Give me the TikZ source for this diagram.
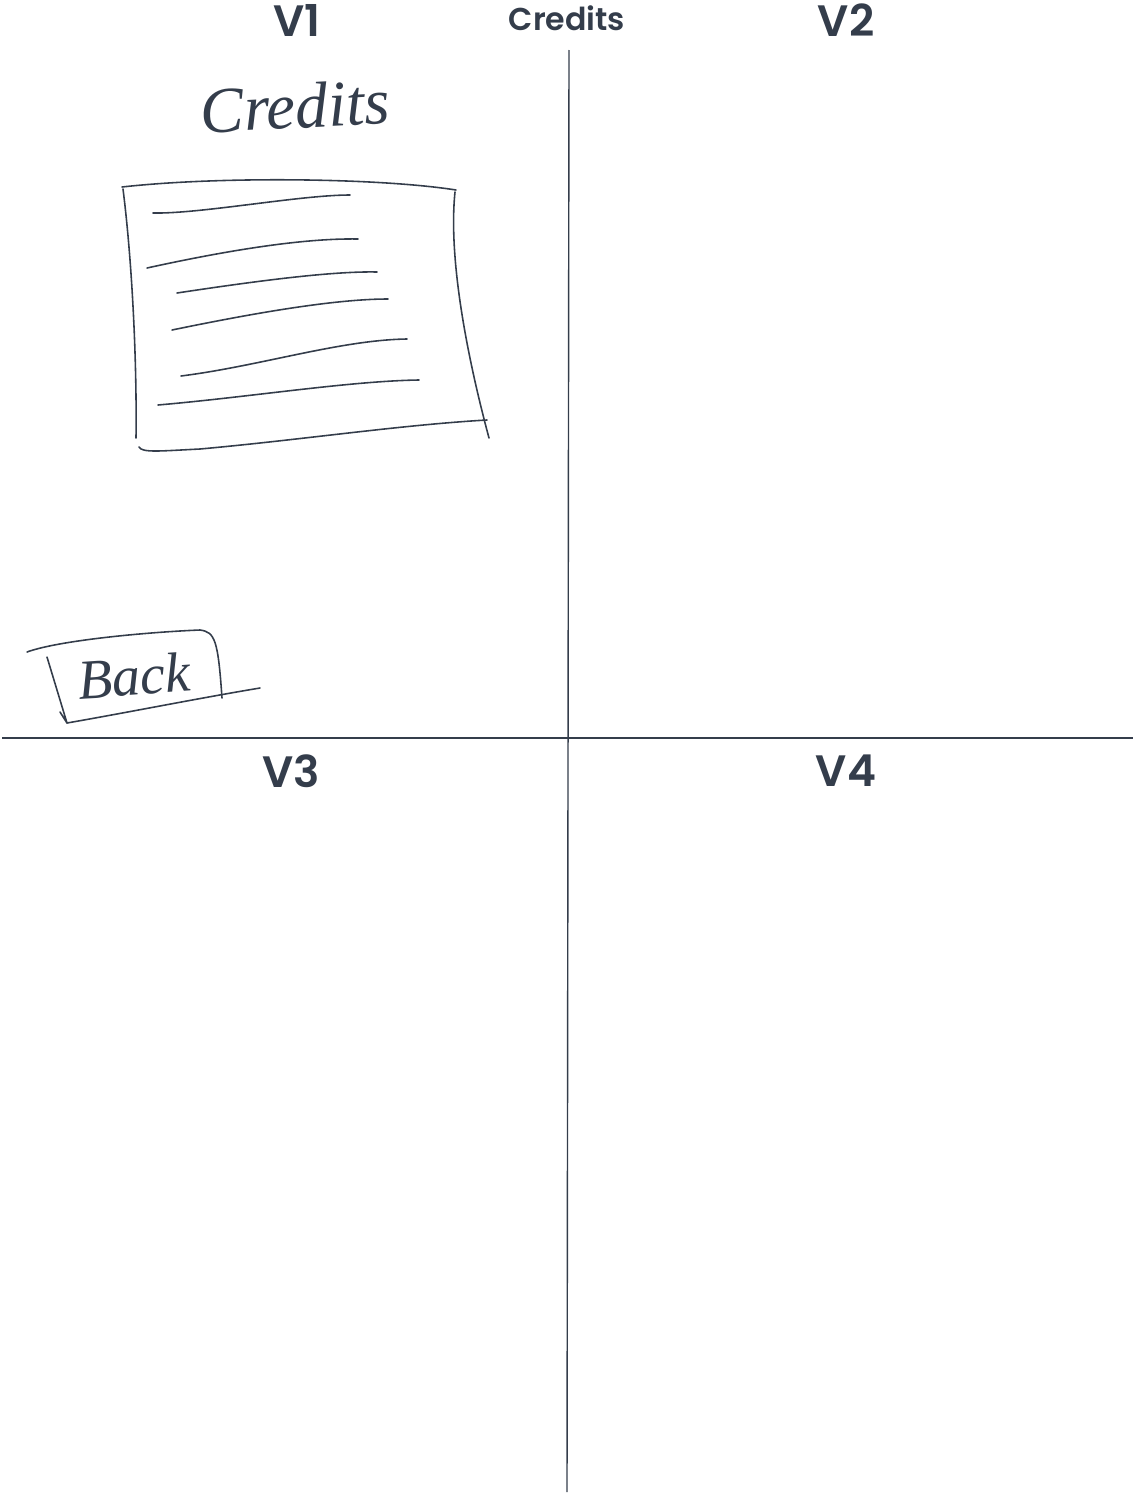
\documentclass[tikz,border=0pt]{standalone}
\usepackage{fontspec}
\setmainfont{Poppins}[BoldFont={* SemiBold}]
\newfontfamily\handfont{Liberation Serif}
\usetikzlibrary{positioning,calc}
\definecolor{ink}{RGB}{52,61,75}
\tikzset{
    divider/.style={draw=ink,line width=0.8pt},
    heading/.style={text=ink,font=\fontsize{25}{28}\selectfont\bfseries,inner sep=0pt},
    pagetitle/.style={text=ink,font=\fontsize{18}{20}\selectfont\bfseries,inner sep=0pt},
    scrawl/.style={draw=ink,line width=0.9pt,line cap=round,line join=round},
    hand/.style={text=ink,font=\handfont\itshape,inner sep=0pt},
}
\begin{document}
\begin{tikzpicture}[x=0.02cm,y=-0.02cm]
    \useasboundingbox (0,0) rectangle (1134,1494);
    % headings
    \node[heading] (v1) at (297,20) {V1};
    \node[pagetitle] (page) at (567,18) {Credits};
    \node[heading] (v2) at (846,20) {V2};
    \node[heading] (v3) at (291,771) {V3};
    \node[heading] (v4) at (846,771) {V4};
    % quadrants
    \coordinate (top) at (569,50);
    \coordinate (bottom) at (567,1492);
    \coordinate (left) at (2,738);
    \coordinate (right) at (1133,738);
    \draw[divider] (top) -- (bottom);
    \draw[divider] (left) -- (right);
    % sketch of V1
    \node[hand,font=\handfont\itshape\fontsize{37}{40}\selectfont,rotate=3] (sketchtitle) at (295,106) {Credits};
    \draw[scrawl] (122,187) .. controls (220,176) and (380,178) .. (456,190);
    \draw[scrawl] (123,189) .. controls (132,260) and (137,360) .. (136,438);
    \draw[scrawl] (455,192) .. controls (448,260) and (468,360) .. (489,438);
    \draw[scrawl] (139,447) .. controls (142,453) and (160,451) .. (200,449) .. controls (300,440) and (400,425) .. (487,420);
    \draw[scrawl] (153,213) .. controls (200,214) and (300,195) .. (350,195);
    \draw[scrawl] (147,268) .. controls (220,252) and (300,238) .. (358,239);
    \draw[scrawl] (177,293) .. controls (250,282) and (330,271) .. (377,272);
    \draw[scrawl] (172,330) .. controls (240,316) and (330,299) .. (388,299);
    \draw[scrawl] (181,376) .. controls (260,366) and (340,340) .. (407,339);
    \draw[scrawl] (158,405) .. controls (250,397) and (350,381) .. (419,380);
    % back button
    \node[hand,font=\handfont\itshape\fontsize{32}{36}\selectfont,rotate=4] (back) at (134,676) {Back};
    \draw[scrawl] (27,652) .. controls (60,640) and (150,632) .. (200,630) .. controls (215,632) and (218,640) .. (222,698);
    \draw[scrawl] (47,657) -- (67,723) -- (60,712);
    \draw[scrawl] (67,723) .. controls (130,712) and (200,698) .. (260,688);
\end{tikzpicture}
\end{document}
